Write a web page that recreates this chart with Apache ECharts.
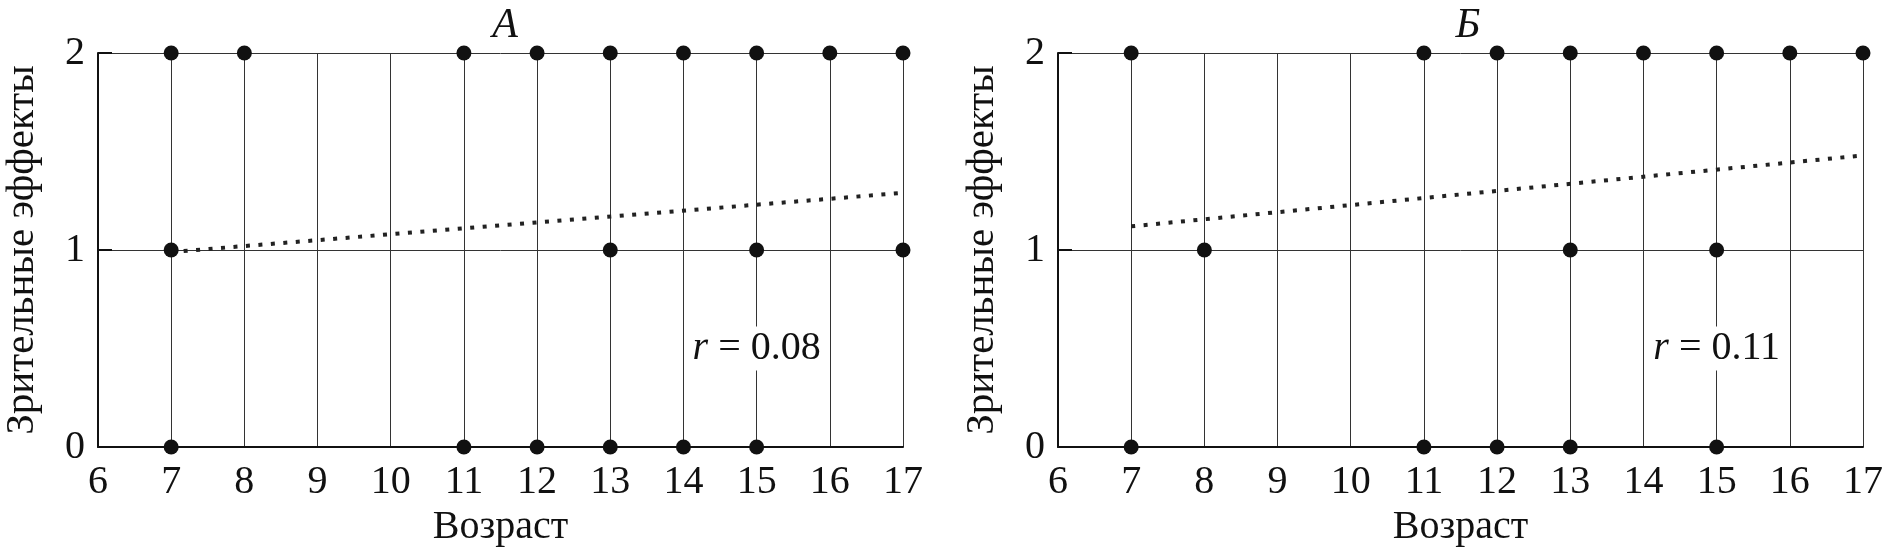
<!DOCTYPE html>
<html>
<head>
<meta charset="utf-8">
<script src="https://cdn.jsdelivr.net/npm/echarts@6/dist/echarts.min.js"></script>
<style>
  html, body { margin: 0; padding: 0; background: #fff; }
  #chart { width: 1886px; height: 552px; }
</style>
</head>
<body>
<div id="chart"></div>
<script>
// панель А: возраст и зрительные эффекты
var ageA = [7, 8, 11, 12, 13, 14, 15, 16, 17, 7, 13, 15, 17, 7, 11, 12, 13, 14, 15];
var effectA = [2, 2, 2, 2, 2, 2, 2, 2, 2, 1, 1, 1, 1, 0, 0, 0, 0, 0, 0];
// панель Б
var ageB = [7, 11, 12, 13, 14, 15, 16, 17, 8, 13, 15, 7, 11, 12, 13, 15];
var effectB = [2, 2, 2, 2, 2, 2, 2, 2, 1, 1, 1, 0, 0, 0, 0, 0];
// линии тренда (концы)
var trendX = [7, 17];
var trendA = [0.99, 1.29];
var trendB = [1.12, 1.48];
// подписи
var panelTitles = ['А', 'Б'];
var rLabels = ['0.08', '0.11'];
var rPos = [15, 0.5];
var xName = 'Возраст';
var yName = 'Зрительные эффекты';

var SERIF = 'Liberation Serif';
var INK = '#111';

function pairs(xs, ys) {
  var out = [];
  xs.forEach(function(x, i) { out.push([x, ys[i]]); });
  return out;
}

function makeXAxis(idx) {
  return {
    type: 'value', gridIndex: idx, min: 6, max: 17, interval: 1,
    name: xName, nameLocation: 'middle', nameGap: 60,
    nameTextStyle: { fontFamily: SERIF, fontSize: 40, color: INK },
    axisLine: { lineStyle: { color: INK, width: 2 } },
    axisTick: { show: false },
    axisLabel: { fontFamily: SERIF, fontSize: 40, color: INK, margin: 15 },
    splitLine: { show: true, lineStyle: { color: '#333', width: 1 } }
  };
}

function makeYAxis(idx) {
  return {
    type: 'value', gridIndex: idx, min: 0, max: 2, interval: 1,
    name: yName, nameLocation: 'middle', nameGap: 55,
    nameTextStyle: { fontFamily: SERIF, fontSize: 41, color: INK },
    axisLine: { show: true, lineStyle: { color: INK, width: 2 } },
    axisTick: { show: true, inside: true, length: 14, lineStyle: { color: INK, width: 2 } },
    axisLabel: { fontFamily: SERIF, fontSize: 40, color: INK, margin: 13 },
    splitLine: { show: true, lineStyle: { color: '#333', width: 1 } }
  };
}

function makeSeries(idx, ages, effects, trend, r) {
  return [
    {
      type: 'line', xAxisIndex: idx, yAxisIndex: idx,
      data: pairs(trendX, trend), showSymbol: false, symbol: 'none',
      lineStyle: { color: '#222', width: 4, type: [4, 8.5], opacity: 1 }, z: 3
    },
    {
      type: 'scatter', xAxisIndex: idx, yAxisIndex: idx, clip: false,
      data: pairs(ages, effects), symbol: 'circle', symbolSize: 15,
      itemStyle: { color: INK, opacity: 1 }, z: 4
    },
    {
      type: 'scatter', xAxisIndex: idx, yAxisIndex: idx,
      data: [rPos], symbolSize: 0, silent: true, z: 5,
      itemStyle: { opacity: 1 },
      label: {
        show: true, position: 'inside',
        backgroundColor: '#fff', padding: [2, 2],
        formatter: '{i|r} = ' + r,
        fontFamily: SERIF, fontSize: 40, color: INK,
        rich: { i: { fontFamily: SERIF, fontSize: 40, fontStyle: 'italic', color: INK } }
      }
    }
  ];
}

var option = {
  backgroundColor: '#fff',
  animation: false,
  textStyle: { fontFamily: SERIF },
  title: [
    { text: panelTitles[0], left: 500, top: 0, textAlign: 'center',
      textStyle: { fontFamily: SERIF, fontSize: 42, fontStyle: 'italic', fontWeight: 'normal', color: INK } },
    { text: panelTitles[1], left: 1463, top: 0, textAlign: 'center',
      textStyle: { fontFamily: SERIF, fontSize: 42, fontStyle: 'italic', fontWeight: 'normal', color: INK } }
  ],
  grid: [
    { left: 98, top: 53, width: 805, height: 397 },
    { left: 1058, top: 53, width: 805, height: 397 }
  ],
  xAxis: [makeXAxis(0), makeXAxis(1)],
  yAxis: [makeYAxis(0), makeYAxis(1)],
  series: makeSeries(0, ageA, effectA, trendA, rLabels[0])
    .concat(makeSeries(1, ageB, effectB, trendB, rLabels[1]))
};

var myChart = echarts.init(document.getElementById('chart'));
myChart.setOption(option);

// проверка шрифтов: вывести в консоль, какие шрифты реально применены
var fontInfo = [];
myChart.getZr().storage.getDisplayList().forEach(function(el) {
  if (el.style && el.style.text != null && fontInfo.length < 6) {
    fontInfo.push(el.style.font + ' / ' + el.style.text);
  }
});
console.log('FONTS: ' + fontInfo.join(' || '));
console.log('OPT: ' + JSON.stringify(myChart.getOption().title[0].textStyle));
</script>
</body>
</html>
